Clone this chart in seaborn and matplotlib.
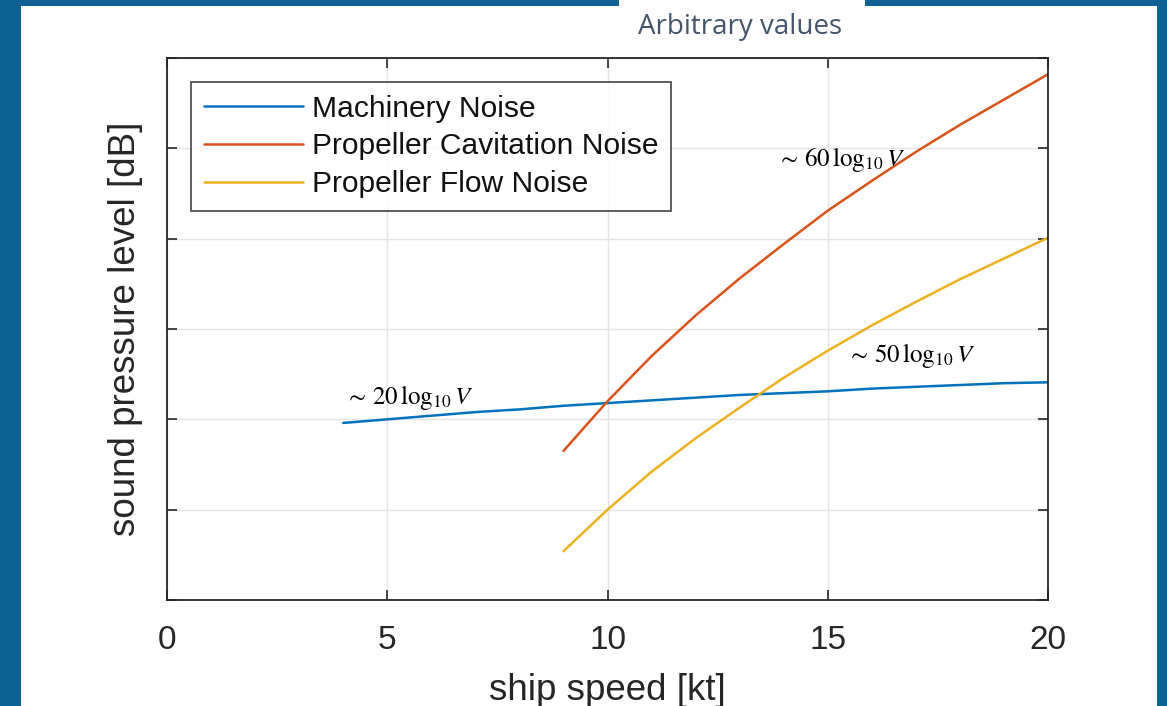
import numpy as np
import pandas as pd
import matplotlib
matplotlib.use("Agg")
import matplotlib.pyplot as plt
import seaborn as sns
from matplotlib.patches import Rectangle

# ---- data (arbitrary units) ----
speed_machinery = [4, 5, 6, 7, 8, 9, 10, 11, 12, 13, 14, 15, 16, 17, 18, 19, 20]
level_machinery = [19.6, 20.0, 20.4, 20.8, 21.1, 21.5, 21.8, 22.1, 22.4, 22.7,
                   22.9, 23.1, 23.4, 23.6, 23.8, 24.0, 24.1]
speed_propeller = [9, 10, 11, 12, 13, 14, 15, 16, 17, 18, 19, 20]
level_cavitation = [16.5, 22.0, 27.0, 31.5, 35.6, 39.4, 43.1, 46.4, 49.6, 52.6, 55.4, 58.2]
level_flow = [5.4, 10.0, 14.2, 17.9, 21.3, 24.6, 27.6, 30.4, 33.0, 35.5, 37.8, 40.1]
series_names = ["Machinery Noise", "Propeller Cavitation Noise", "Propeller Flow Noise"]
x_ticks = [0, 5, 10, 15, 20]
y_ticks = [0, 10, 20, 30, 40, 50, 60]
annotations = [r"$\sim\,20\,\log_{10}V$", r"$\sim\,60\,\log_{10}V$", r"$\sim\,50\,\log_{10}V$"]
annot_pos = [(4.05, 21.7), (13.85, 48.0), (15.44, 26.3)]

colors = ["#0072BD", "#D95319", "#EDB120"]

df = pd.concat([
    pd.DataFrame({"speed": speed_machinery, "level": level_machinery, "series": series_names[0]}),
    pd.DataFrame({"speed": speed_propeller, "level": level_cavitation, "series": series_names[1]}),
    pd.DataFrame({"speed": speed_propeller, "level": level_flow, "series": series_names[2]}),
], ignore_index=True)

sns.set_theme(style="white")
plt.rcParams["font.family"] = ["Liberation Sans", "DejaVu Sans"]
plt.rcParams["mathtext.fontset"] = "stix"

W, H = 1167, 706
fig = plt.figure(figsize=(W / 100, H / 100), dpi=100)
fig.patch.set_facecolor("#0E6193")
# white inner panel and title tab
fig.patches.append(Rectangle((21 / W, 0), (1157 - 21) / W, (H - 6) / H,
                             transform=fig.transFigure, facecolor="white", edgecolor="none", zorder=-10))
fig.patches.append(Rectangle((619 / W, (H - 8) / H), (865 - 619) / W, 8 / H,
                             transform=fig.transFigure, facecolor="white", edgecolor="none", zorder=-10))
fig.text(740 / W, 1 - 34 / H, "Arbitrary values", ha="center", va="baseline",
         fontsize=20, color="#44546A", family=["Open Sans", "DejaVu Sans"])

ax = fig.add_axes([167 / W, 1 - 600 / H, (1048 - 167) / W, (600 - 58) / H])
ax.set_zorder(5)
sns.lineplot(data=df, x="speed", y="level", hue="series", palette=colors,
             hue_order=series_names, linewidth=1.8, errorbar=None, ax=ax)

ax.set_xlim(0, 20)
ax.set_ylim(0, 60)
ax.set_xticks(x_ticks)
ax.set_yticks(y_ticks)
ax.set_yticklabels([])
ax.grid(True, color="#E3E3E3", linewidth=1)
ax.set_axisbelow(True)
for s in ax.spines.values():
    s.set_visible(True)
    s.set_color("#262626")
    s.set_linewidth(1.3)
ax.tick_params(direction="in", length=7, width=1.2, color="#262626",
               bottom=True, top=True, left=True, right=True,
               labelsize=24, labelcolor="#262626", pad=18)
ax.set_xlabel("ship speed [kt]", fontsize=26.5, color="#262626", labelpad=12)
ax.set_ylabel("sound pressure level [dB]", fontsize=26.5, color="#262626", labelpad=-1)

for txt, (xx, yy) in zip(annotations, annot_pos):
    ax.text(xx, yy, txt, fontsize=18, color="black", ha="left", va="baseline")

leg = ax.legend(loc="upper left", frameon=True, fancybox=False, edgecolor="#262626",
                fontsize=21.6, handlelength=3.3, labelspacing=0.33, borderaxespad=0.8,
                borderpad=0.42, handletextpad=0.3)
leg.get_frame().set_linewidth(1.3)
for t in leg.get_texts():
    t.set_color("#111111")

fig.savefig("out.png", dpi=100, facecolor=fig.get_facecolor())
